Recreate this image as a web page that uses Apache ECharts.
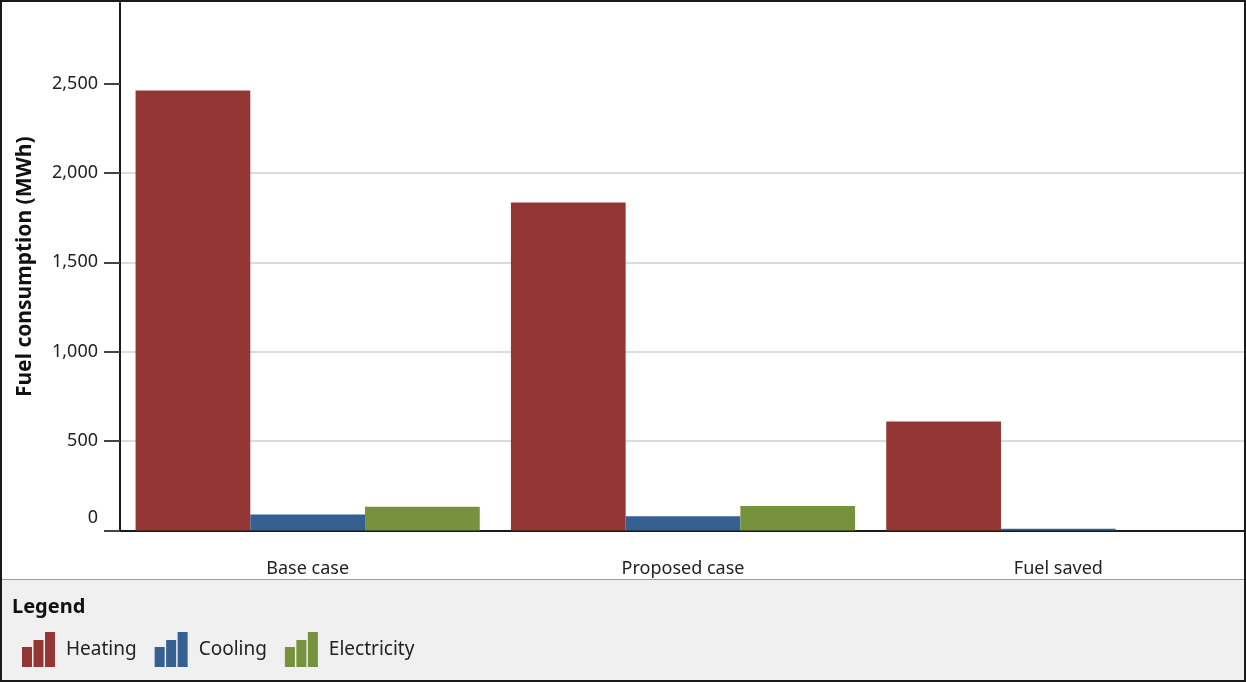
<!DOCTYPE html>
<html>
<head>
<meta charset="utf-8">
<script src="https://cdn.jsdelivr.net/npm/echarts@6/dist/echarts.min.js"></script>
<style>
  html, body { margin: 0; padding: 0; background: #fff; }
  #chart { width: 1246px; height: 682px; }
</style>
</head>
<body>
<div id="chart"></div>
<script>
// Scenario categories and fuel consumption per end use (MWh)
const categories = ['Base case', 'Proposed case', 'Fuel saved'];
const heating = [2460, 1835, 610];
const cooling = [90, 80, 10];
const electricity = [133, 137, 0];
const yTicks = [0, 500, 1000, 1500, 2000, 2500];

const colors = { heating: '#943634', cooling: '#376092', electricity: '#76923C' };
const FONT = '"Noto Sans", "Open Sans", sans-serif';

// three rising bars used as the legend symbol
const barIcon = 'path://M0,15 L10,15 L10,35 L0,35 Z M11.5,8 L21.5,8 L21.5,35 L11.5,35 Z M23,0 L33,0 L33,35 L23,35 Z';

const chart = echarts.init(document.getElementById('chart'), null, { renderer: 'canvas' });

const W = 1246, H = 682, plotBottom = 530.5;

chart.setOption({
  backgroundColor: '#fff',
  animation: false,
  grid: { left: 120, right: 0, top: 3, bottom: H - plotBottom, containLabel: false },
  graphic: [
    // legend panel
    { type: 'rect', z: -1, silent: true,
      shape: { x: 0, y: 579, width: W, height: H - 579 },
      style: { fill: '#f0f0f0' } },
    { type: 'line', silent: true,
      shape: { x1: 0, y1: 579.5, x2: W, y2: 579.5 },
      style: { stroke: '#9a9a9a', lineWidth: 1 } },
    { type: 'text', left: 12, top: 597, silent: true,
      style: { text: 'Legend', font: 'bold 20px ' + FONT, fill: '#111' } },
    // outer frame
    { type: 'rect', z: 100, silent: true,
      shape: { x: 1, y: 1, width: W - 2, height: H - 2 },
      style: { fill: 'none', stroke: '#1a1a1a', lineWidth: 2 } }
  ],
  legend: {
    left: 17, top: 627,
    itemWidth: 33, itemHeight: 35, itemGap: 18,
    icon: barIcon,
    textStyle: { fontFamily: FONT, fontSize: 19, color: '#222', padding: [0, 0, 0, 6] },
    data: ['Heating', 'Cooling', 'Electricity']
  },
  xAxis: {
    type: 'category',
    data: categories,
    axisLine: { lineStyle: { color: '#1a1a1a', width: 2 } },
    axisTick: { alignWithLabel: true, length: 13, lineStyle: { color: '#444', width: 2 } },
    axisLabel: { fontFamily: FONT, fontSize: 18, color: '#222', margin: 29 }
  },
  yAxis: {
    type: 'value',
    min: 0, max: 2950, interval: 500,
    name: 'Fuel consumption (MWh)',
    nameLocation: 'middle', nameGap: 84, nameRotate: 90,
    nameTextStyle: { fontFamily: FONT, fontSize: 21, fontWeight: 'bold', color: '#111' },
    axisLine: { show: true, lineStyle: { color: '#1a1a1a', width: 2 } },
    axisTick: { show: true, length: 16, lineStyle: { color: '#444', width: 2 },
                customValues: yTicks },
    splitLine: { show: true, showMaxLine: false, lineStyle: { color: '#dcdcdc', width: 2 } },
    axisLabel: {
      customValues: yTicks,
      fontFamily: FONT, fontSize: 18, color: '#222', margin: 22,
      formatter: v => v === 0 ? '{z|0}' : v.toLocaleString('en-US'),
      rich: { z: { fontFamily: FONT, fontSize: 18, color: '#222', padding: [0, 0, 26, 0] } }
    }
  },
  series: [
    { name: 'Heating', type: 'bar', data: heating, barGap: '0%', barCategoryGap: '8.3%',
      itemStyle: { color: colors.heating } },
    { name: 'Cooling', type: 'bar', data: cooling,
      itemStyle: { color: colors.cooling } },
    { name: 'Electricity', type: 'bar', data: electricity,
      itemStyle: { color: colors.electricity } }
  ]
});
</script>
</body>
</html>
